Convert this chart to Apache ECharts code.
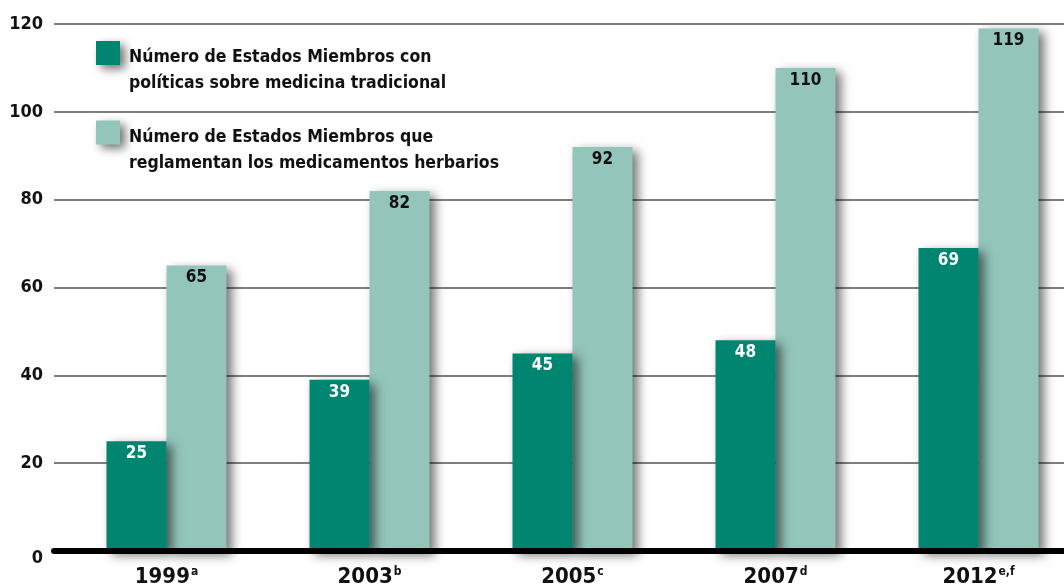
<!DOCTYPE html>
<html>
<head>
<meta charset="utf-8">
<script src="https://cdn.jsdelivr.net/npm/echarts@6/dist/echarts.min.js"></script>
<style>
  html, body { margin: 0; padding: 0; background: #fff; }
  #chart { width: 1064px; height: 586px; }
</style>
</head>
<body>
<div id="chart"></div>
<script>
  var years = ['1999', '2003', '2005', '2007', '2012'];
  var notes = ['a', 'b', 'c', 'd', 'e,f'];
  var politicas = [25, 39, 45, 48, 69];
  var herbarios = [65, 82, 92, 110, 119];
  var yTicks = [0, 20, 40, 60, 80, 100, 120];

  var nameA = 'Número de Estados Miembros con\npolíticas sobre medicina tradicional';
  var nameB = 'Número de Estados Miembros que\nreglamentan los medicamentos herbarios';
  var darkGreen = '#008571';
  var lightGreen = '#93c5bb';
  var font = '"DejaVu Sans Condensed", "DejaVu Sans", sans-serif';

  var shadow = {
    shadowColor: 'rgba(0,0,0,0.55)',
    shadowBlur: 10,
    shadowOffsetX: 5,
    shadowOffsetY: 4
  };

  var myChart = echarts.init(document.getElementById('chart'));
  myChart.setOption({
    animation: false,
    textStyle: { fontFamily: font },
    legend: {
      orient: 'vertical',
      left: 91,
      top: 17,
      itemWidth: 24,
      itemHeight: 24,
      itemGap: 9,
      icon: 'rect',
      data: [nameA, nameB],
      itemStyle: shadow,
      formatter: function (name) {
        var lines = name.split('\n');
        return '{sp| }\n{t|' + lines[0] + '}\n{t|' + lines[1] + '}';
      },
      textStyle: {
        rich: {
          sp: { fontSize: 10, lineHeight: 35 },
          t: { fontFamily: font, fontWeight: 'bold', fontSize: 17.5, color: '#111', lineHeight: 26, padding: [0, 0, 0, 4] }
        }
      }
    },
    grid: [
      { left: 54, right: 0, top: 24, bottom: 35, outerBoundsMode: 'none' },
      { left: 65, width: 1015, top: 24, bottom: 35, outerBoundsMode: 'none' }
    ],
    xAxis: [
      {
        gridIndex: 0,
        type: 'category',
        data: years,
        axisLine: { lineStyle: { color: '#000', width: 6 } },
        axisTick: { show: false },
        axisLabel: { show: false },
        z: 10
      },
      {
        gridIndex: 1,
        type: 'category',
        data: years,
        axisLine: { show: false },
        axisTick: { show: false },
        axisLabel: {
          margin: 15,
          formatter: function (v, i) {
            return '{y|' + v + '}{s|' + notes[i] + '}';
          },
          rich: {
            y: { fontFamily: font, fontWeight: 'bold', fontSize: 22, color: '#111' },
            s: { fontFamily: font, fontWeight: 'bold', fontSize: 12, color: '#111', verticalAlign: 'top', padding: [0, 0, 10, 1] }
          }
        }
      }
    ],
    yAxis: [
      {
        gridIndex: 0,
        type: 'value',
        min: yTicks[0],
        max: yTicks[yTicks.length - 1],
        interval: 20,
        axisLine: { show: false },
        axisTick: { show: false },
        axisLabel: {
          margin: 11,
          fontFamily: font,
          fontWeight: 'bold',
          fontSize: 18,
          color: '#111',
          formatter: function (v) { return v === 0 ? '{z|0}' : String(v); },
          rich: { z: { fontFamily: font, fontWeight: 'bold', fontSize: 18, color: '#111', padding: [14, 0, 0, 0] } }
        },
        splitLine: { lineStyle: { color: '#555', width: 1.5 } }
      },
      {
        gridIndex: 1,
        type: 'value',
        min: 0,
        max: 120,
        interval: 20,
        show: false,
        splitLine: { show: false }
      }
    ],
    series: [
      {
        name: nameA,
        type: 'bar',
        xAxisIndex: 1,
        yAxisIndex: 1,
        data: politicas,
        barWidth: 60,
        barGap: '0%',
        z: 4,
        itemStyle: Object.assign({ color: darkGreen }, shadow),
        label: {
          show: true,
          position: 'insideTop',
          distance: 4,
          color: '#fff',
          fontFamily: font,
          fontWeight: 'bold',
          fontSize: 17
        }
      },
      {
        name: nameB,
        type: 'bar',
        xAxisIndex: 1,
        yAxisIndex: 1,
        data: herbarios,
        barWidth: 60,
        barGap: '0%',
        z: 3,
        itemStyle: Object.assign({ color: lightGreen }, shadow),
        label: {
          show: true,
          position: 'insideTop',
          distance: 4,
          color: '#111',
          fontFamily: font,
          fontWeight: 'bold',
          fontSize: 17
        }
      }
    ]
  });
</script>
</body>
</html>
